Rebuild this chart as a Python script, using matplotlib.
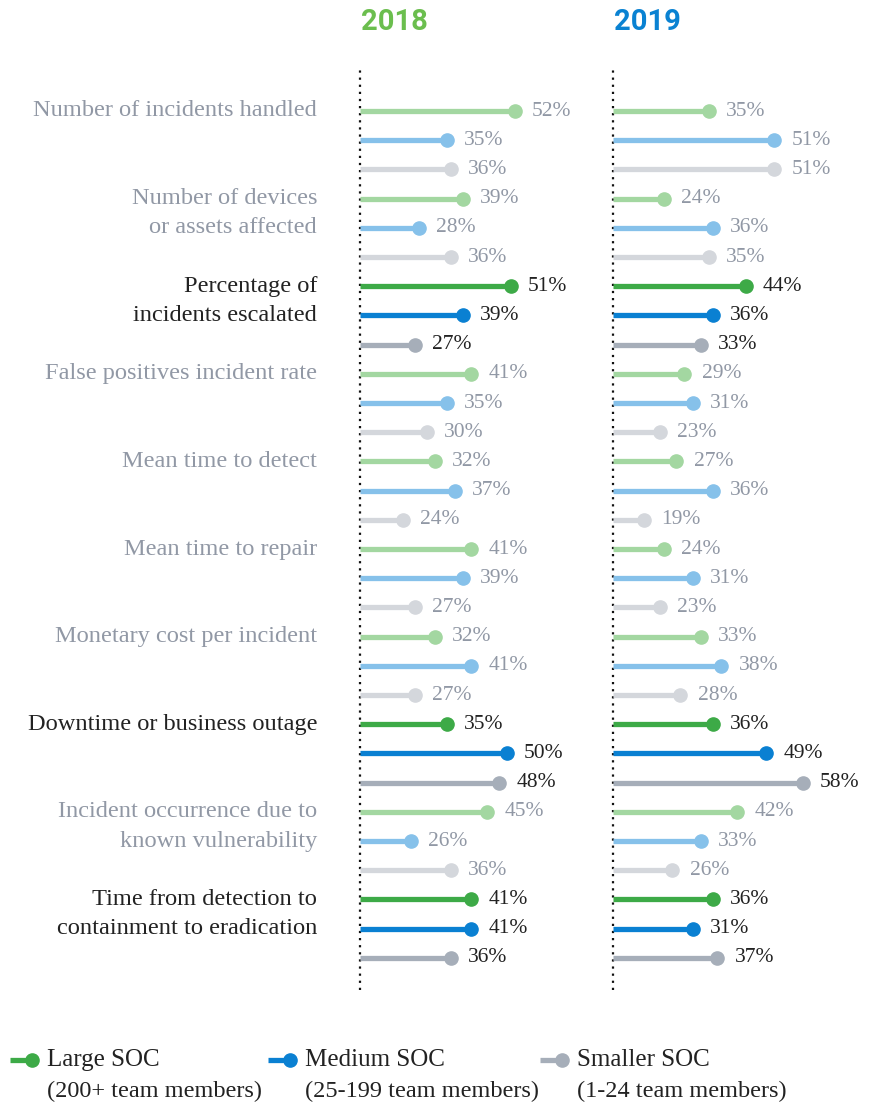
import matplotlib
matplotlib.use("Agg")
import matplotlib.pyplot as plt
from matplotlib.lines import Line2D
import matplotlib.transforms as mtransforms

categories = [
    "Number of incidents handled",
    "Number of devices\nor assets affected",
    "Percentage of\nincidents escalated",
    "False positives incident rate",
    "Mean time to detect",
    "Mean time to repair",
    "Monetary cost per incident",
    "Downtime or business outage",
    "Incident occurrence due to\nknown vulnerability",
    "Time from detection to\ncontainment to eradication",
]
highlight = [False, False, True, False, False, False, False, True, False, True]

large_2018 = [52, 39, 51, 41, 32, 41, 32, 35, 45, 41]
medium_2018 = [35, 28, 39, 35, 37, 39, 41, 50, 26, 41]
small_2018 = [36, 36, 27, 30, 24, 27, 27, 48, 36, 36]

large_2019 = [35, 24, 44, 29, 27, 24, 33, 36, 42, 36]
medium_2019 = [51, 36, 36, 31, 36, 31, 38, 49, 33, 31]
small_2019 = [51, 35, 33, 23, 19, 23, 28, 58, 26, 37]

years = ["2018", "2019"]
series_names = ["Large SOC", "Medium SOC", "Smaller SOC"]
series_sub = ["(200+ team members)", "(25-199 team members)", "(1-24 team members)"]

dark_cols = ["#3DAA47", "#0A80D2", "#A6AEB9"]
light_cols = ["#A3D7A1", "#86C1EA", "#D4D7DC"]
year_cols = ["#6BBE4E", "#0A82D2"]
gray_text = "#9198A5"
dark_text = "#222222"

SERIF = ["Liberation Serif", "DejaVu Serif"]

W, H = 880, 1105
fig = plt.figure(figsize=(W / 100, H / 100), dpi=100)

row0, drow = 111, 29.2
top_px, bot_px = 68, 990
y_top = (top_px - row0) / drow
y_bot = (bot_px - row0) / drow

panels = [
    (360, 240, (13.3, 73.3), [large_2018, medium_2018, small_2018]),
    (613, 260, (11.5, 75.2), [large_2019, medium_2019, small_2019]),
]

axes = []
for p, (left, width, xl, data) in enumerate(panels):
    ax = fig.add_axes([left / W, 1 - bot_px / H, width / W, (bot_px - top_px) / H])
    ax.set_xlim(*xl)
    ax.set_ylim(y_bot, y_top)
    ax.axis("off")
    ax.axvline(xl[0], color="#111111", linestyle=(0, (1, 2.2)), linewidth=1.6,
               clip_on=False)
    for c in range(len(categories)):
        for s in range(3):
            row = c * 3 + s
            v = data[s][c]
            col = dark_cols[s] if highlight[c] else light_cols[s]
            tcol = dark_text if highlight[c] else gray_text
            ax.plot([xl[0], v], [row, row], color=col, linewidth=3.8,
                    solid_capstyle="butt", clip_on=False)
            ax.plot([v], [row], "o", color=col, markersize=9.5, clip_on=False)
            ax.annotate(f"{v}%", (v, row), xytext=(12.5, 0), textcoords="offset points",
                        ha="left", va="center", fontsize=15.5, color=tcol,
                        family=SERIF)
    fig.text((left + 1) / W, 1 - 22 / H, years[p], color=year_cols[p],
             fontsize=21, fontweight="bold", family=["Roboto", "DejaVu Sans"],
             ha="left", va="center")
    axes.append(ax)

# category labels
ax0 = axes[0]
trans = mtransforms.blended_transform_factory(fig.transFigure, ax0.transData)
for c, cat in enumerate(categories):
    lines = cat.split("\n")
    tcol = dark_text if highlight[c] else gray_text
    for k, ln in enumerate(lines):
        ax0.text(317 / W, c * 3 + k, ln, transform=trans, ha="right", va="center",
                 fontsize=17.6, color=tcol, family=SERIF)

# legend
leg_x = [10, 268, 540]
txt_x = [47, 305, 577]
for s in range(3):
    y1 = 1 - 1060 / H
    fig.add_artist(Line2D([leg_x[s] / W, (leg_x[s] + 22) / W], [y1, y1],
                          color=dark_cols[s], linewidth=3.8, solid_capstyle="butt"))
    fig.add_artist(Line2D([(leg_x[s] + 22) / W], [y1], marker="o", markersize=9.5,
                          color=dark_cols[s], linestyle="none"))
    fig.text(txt_x[s] / W, y1, series_names[s], fontsize=18, color=dark_text,
             family=SERIF, ha="left", va="center")
    fig.text(txt_x[s] / W, 1 - 1091 / H, series_sub[s], fontsize=17.5, color=dark_text,
             family=SERIF, ha="left", va="center")

fig.savefig("out.png", dpi=100, facecolor="white")
